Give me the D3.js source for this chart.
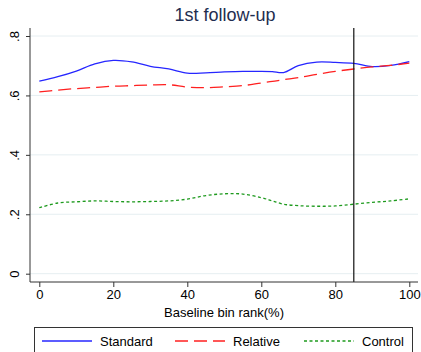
<!DOCTYPE html>
<html>
<head>
<meta charset="utf-8">
<script src="https://cdn.jsdelivr.net/npm/d3@7"></script>
<style>
  body { margin: 0; background: #fff; }
  svg { display: block; font-family: "Liberation Sans", Arial, sans-serif; }
</style>
</head>
<body>
<svg id="chart" width="421" height="352"></svg>
<script>
// baseline bin rank (%)
const ranks = [0, 5, 10, 15, 20, 25, 30, 35, 40, 45, 50, 55, 60, 63, 66, 70, 75, 80, 85, 90, 95, 100];

const standard = [0.648, 0.663, 0.682, 0.706, 0.718, 0.713, 0.698, 0.689, 0.675, 0.676, 0.679, 0.681, 0.681, 0.680, 0.677, 0.700, 0.712, 0.711, 0.708, 0.697, 0.701, 0.714];
const relative = [0.612, 0.618, 0.623, 0.627, 0.631, 0.633, 0.635, 0.636, 0.628, 0.626, 0.629, 0.633, 0.642, 0.647, 0.653, 0.660, 0.671, 0.681, 0.689, 0.696, 0.701, 0.709];
const control  = [0.222, 0.238, 0.242, 0.245, 0.243, 0.242, 0.243, 0.245, 0.251, 0.263, 0.269, 0.268, 0.256, 0.245, 0.234, 0.229, 0.227, 0.228, 0.234, 0.240, 0.245, 0.252];

const xTicks = [0, 20, 40, 60, 80, 100];
const yTicks = [0, 0.2, 0.4, 0.6, 0.8];
const yTickLabels = ["0", ".2", ".4", ".6", ".8"];
const cutoff = 85;

const series = [
  {name: "Standard", values: standard, color: "#2626ff", dash: null},
  {name: "Relative", values: relative, color: "#ff2020", dash: "13,6"},
  {name: "Control",  values: control,  color: "#1e9a1e", dash: "3,2.5"}
];

const svg = d3.select("#chart");
const plot = {left: 30, right: 418, top: 28, bottom: 282};

const x = d3.scaleLinear().domain([0, 100]).range([39.3, 409.3]);
const y = d3.scaleLinear().domain([0, 0.8]).range([273.7, 36]);

// title
svg.append("text")
    .attr("x", 225).attr("y", 21)
    .attr("text-anchor", "middle")
    .style("font-size", "18px")
    .style("fill", "#1e2d4f")
    .text("1st follow-up");

// gridlines
svg.append("g").selectAll("line")
    .data(yTicks)
    .enter().append("line")
    .attr("x1", plot.left).attr("x2", plot.right)
    .attr("y1", d => y(d)).attr("y2", d => y(d))
    .attr("stroke", "#e6eef1").attr("stroke-width", 1);

// series lines
const line = d3.line()
    .x((d, i) => x(ranks[i]))
    .y(d => y(d))
    .curve(d3.curveCatmullRom.alpha(0.5));

series.forEach(s => {
  svg.append("path")
      .datum(s.values)
      .attr("d", line)
      .attr("fill", "none")
      .attr("stroke", s.color)
      .attr("stroke-width", 1.3)
      .attr("stroke-dasharray", s.dash);
});

// cutoff line
svg.append("line")
    .attr("x1", x(cutoff)).attr("x2", x(cutoff))
    .attr("y1", plot.top).attr("y2", plot.bottom)
    .attr("stroke", "#111").attr("stroke-width", 1.2);

// x axis
const xAxis = svg.append("g")
    .attr("transform", "translate(0," + plot.bottom + ")")
    .call(d3.axisBottom(x).tickValues(xTicks).tickSize(5).tickPadding(3).tickSizeOuter(0));
xAxis.select(".domain").attr("d", "M" + plot.left + ",0H" + plot.right).attr("stroke", "#333");
xAxis.selectAll(".tick line").attr("stroke", "#333");
xAxis.selectAll("text").style("font-size", "13px").style("fill", "#000");

// y axis
const yAxis = svg.append("g")
    .attr("transform", "translate(" + plot.left + ",0)")
    .call(d3.axisLeft(y).tickValues(yTicks).tickSize(4).tickSizeOuter(0)
        .tickFormat((d, i) => yTickLabels[i]));
yAxis.select(".domain").attr("d", "M0," + plot.top + "V" + plot.bottom).attr("stroke", "#333");
yAxis.selectAll(".tick line").attr("stroke", "#333");
yAxis.selectAll(".tick text")
    .attr("x", null).attr("dy", null)
    .attr("text-anchor", "middle")
    .attr("transform", "translate(-11,0) rotate(-90)")
    .style("font-size", "13px").style("fill", "#000");

// x label
svg.append("text")
    .attr("x", 224).attr("y", 317)
    .attr("text-anchor", "middle")
    .style("font-size", "13px")
    .text("Baseline bin rank(%)");

// legend
svg.append("rect")
    .attr("x", 34.5).attr("y", 327.5)
    .attr("width", 378).attr("height", 40)
    .attr("fill", "#fff").attr("stroke", "#333").attr("stroke-width", 1);

const legendX = [42, 175, 304];
series.forEach((s, i) => {
  svg.append("line")
      .attr("x1", legendX[i]).attr("x2", legendX[i] + 50)
      .attr("y1", 341).attr("y2", 341)
      .attr("stroke", s.color).attr("stroke-width", 1.3)
      .attr("stroke-dasharray", s.dash);
  svg.append("text")
      .attr("x", legendX[i] + 58).attr("y", 346)
      .style("font-size", "13px")
      .text(s.name);
});
</script>
</body>
</html>
